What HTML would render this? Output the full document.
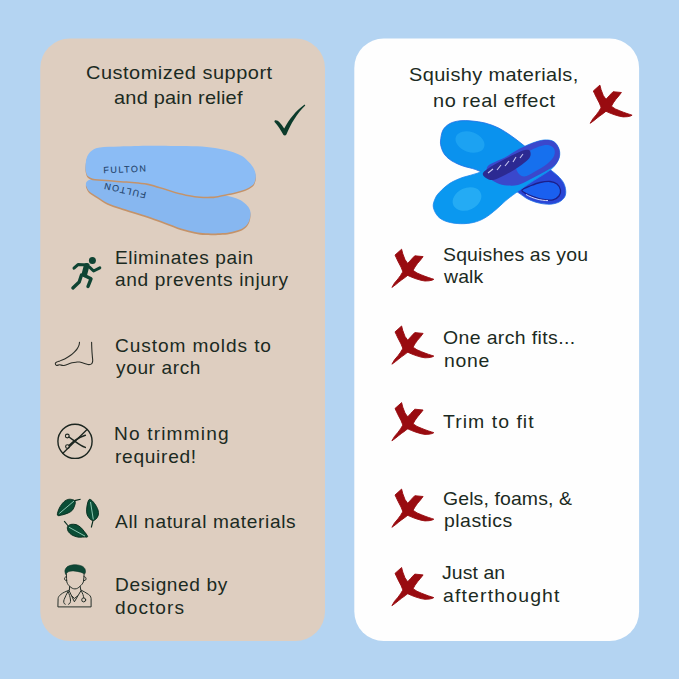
<!DOCTYPE html>
<html><head><meta charset="utf-8"><style>
html,body{margin:0;padding:0;background:#b4d4f2;}
body{width:679px;height:679px;background:#b4d4f2;position:relative;overflow:hidden;font-family:"Liberation Sans",sans-serif;}

.t{position:absolute;white-space:nowrap;color:#1b2a22;}
svg{position:absolute;left:0;top:0;}
</style></head><body>
<svg width="679" height="679" viewBox="0 0 679 679">
<rect x="40.25" y="38.5" width="284.75" height="602.4" rx="29.5" fill="#decec0"/>
<rect x="354.3" y="38.4" width="284.8" height="602.7" rx="29.5" fill="#fefefe"/>
<g>
<path d="M86.0,183.0 C85.5,184.4 86.3,186.5 87.0,188.0 C87.7,189.5 88.3,190.6 90.0,192.0 C91.7,193.4 94.1,194.7 97.0,196.5 C99.9,198.3 103.6,201.2 107.4,203.0 C111.2,204.8 116.0,206.1 120.0,207.5 C124.0,208.9 126.7,209.6 131.7,211.2 C136.7,212.8 144.4,215.1 150.0,217.0 C155.6,218.9 159.8,220.6 165.0,222.5 C170.2,224.4 176.2,226.9 181.2,228.5 C186.2,230.1 190.9,231.2 195.0,232.0 C199.1,232.8 201.3,233.1 205.5,233.3 C209.7,233.5 215.9,233.4 220.0,233.2 C224.1,233.0 226.5,232.8 229.8,232.2 C233.1,231.6 237.3,230.6 240.0,229.5 C242.7,228.4 244.4,227.4 246.0,225.8 C247.6,224.2 248.8,222.1 249.5,220.0 C250.2,217.9 250.6,215.0 250.5,213.0 C250.4,211.0 249.9,209.6 249.0,208.0 C248.1,206.4 246.6,204.9 245.0,203.5 C243.4,202.1 241.8,200.9 239.6,199.8 C237.4,198.7 234.9,197.8 232.0,197.0 C229.1,196.2 227.3,195.8 222.0,195.0 C216.7,194.2 207.8,193.3 200.0,192.0 C192.2,190.7 183.3,188.6 175.0,187.0 C166.7,185.4 159.2,183.7 150.0,182.5 C140.8,181.3 128.3,180.6 120.0,180.0 C111.7,179.4 105.0,179.1 100.0,179.0 C95.0,178.9 92.3,178.8 90.0,179.5 C87.7,180.2 86.5,181.6 86.0,183.0 Z" fill="#c4936a" transform="translate(0,1.8)"/>
<path d="M86.0,183.0 C85.5,184.4 86.3,186.5 87.0,188.0 C87.7,189.5 88.3,190.6 90.0,192.0 C91.7,193.4 94.1,194.7 97.0,196.5 C99.9,198.3 103.6,201.2 107.4,203.0 C111.2,204.8 116.0,206.1 120.0,207.5 C124.0,208.9 126.7,209.6 131.7,211.2 C136.7,212.8 144.4,215.1 150.0,217.0 C155.6,218.9 159.8,220.6 165.0,222.5 C170.2,224.4 176.2,226.9 181.2,228.5 C186.2,230.1 190.9,231.2 195.0,232.0 C199.1,232.8 201.3,233.1 205.5,233.3 C209.7,233.5 215.9,233.4 220.0,233.2 C224.1,233.0 226.5,232.8 229.8,232.2 C233.1,231.6 237.3,230.6 240.0,229.5 C242.7,228.4 244.4,227.4 246.0,225.8 C247.6,224.2 248.8,222.1 249.5,220.0 C250.2,217.9 250.6,215.0 250.5,213.0 C250.4,211.0 249.9,209.6 249.0,208.0 C248.1,206.4 246.6,204.9 245.0,203.5 C243.4,202.1 241.8,200.9 239.6,199.8 C237.4,198.7 234.9,197.8 232.0,197.0 C229.1,196.2 227.3,195.8 222.0,195.0 C216.7,194.2 207.8,193.3 200.0,192.0 C192.2,190.7 183.3,188.6 175.0,187.0 C166.7,185.4 159.2,183.7 150.0,182.5 C140.8,181.3 128.3,180.6 120.0,180.0 C111.7,179.4 105.0,179.1 100.0,179.0 C95.0,178.9 92.3,178.8 90.0,179.5 C87.7,180.2 86.5,181.6 86.0,183.0 Z" fill="#87b7f0"/>
<path d="M85.5,166.0 C85.7,163.5 85.9,159.6 87.0,157.0 C88.1,154.4 89.8,152.1 92.0,150.5 C94.2,148.9 95.3,148.2 100.0,147.5 C104.7,146.8 111.7,146.8 120.0,146.5 C128.3,146.2 140.8,145.9 150.0,145.8 C159.2,145.7 167.2,145.9 175.0,146.0 C182.8,146.1 190.3,146.0 197.0,146.3 C203.7,146.6 209.5,147.2 215.0,148.0 C220.5,148.8 225.5,149.9 230.0,151.2 C234.5,152.5 238.8,154.1 242.0,156.0 C245.2,157.9 247.3,160.4 249.3,162.6 C251.3,164.8 252.9,166.8 254.0,169.0 C255.1,171.2 255.6,173.5 255.8,175.5 C256.0,177.5 255.6,179.4 255.0,181.0 C254.4,182.6 254.2,183.8 252.5,185.2 C250.8,186.6 248.0,188.3 245.0,189.5 C242.0,190.7 238.5,191.6 234.7,192.5 C230.9,193.4 225.5,194.3 222.0,195.0 C218.5,195.7 217.3,196.3 213.6,196.6 C209.9,196.8 204.1,196.8 200.0,196.5 C195.9,196.2 193.5,195.8 189.3,195.0 C185.1,194.2 179.9,193.0 175.0,191.7 C170.1,190.4 164.5,188.3 160.0,187.0 C155.5,185.7 152.2,184.4 148.0,183.6 C143.8,182.8 139.1,182.4 135.0,182.0 C130.9,181.6 127.8,181.5 123.6,181.2 C119.4,180.9 114.8,180.4 110.0,180.0 C105.2,179.6 98.7,179.6 95.0,179.0 C91.3,178.4 89.5,177.5 88.0,176.3 C86.5,175.1 86.4,173.7 86.0,172.0 C85.6,170.3 85.3,168.5 85.5,166.0 Z" fill="#c4936a" transform="translate(0,1.6)"/>
<path d="M85.5,166.0 C85.7,163.5 85.9,159.6 87.0,157.0 C88.1,154.4 89.8,152.1 92.0,150.5 C94.2,148.9 95.3,148.2 100.0,147.5 C104.7,146.8 111.7,146.8 120.0,146.5 C128.3,146.2 140.8,145.9 150.0,145.8 C159.2,145.7 167.2,145.9 175.0,146.0 C182.8,146.1 190.3,146.0 197.0,146.3 C203.7,146.6 209.5,147.2 215.0,148.0 C220.5,148.8 225.5,149.9 230.0,151.2 C234.5,152.5 238.8,154.1 242.0,156.0 C245.2,157.9 247.3,160.4 249.3,162.6 C251.3,164.8 252.9,166.8 254.0,169.0 C255.1,171.2 255.6,173.5 255.8,175.5 C256.0,177.5 255.6,179.4 255.0,181.0 C254.4,182.6 254.2,183.8 252.5,185.2 C250.8,186.6 248.0,188.3 245.0,189.5 C242.0,190.7 238.5,191.6 234.7,192.5 C230.9,193.4 225.5,194.3 222.0,195.0 C218.5,195.7 217.3,196.3 213.6,196.6 C209.9,196.8 204.1,196.8 200.0,196.5 C195.9,196.2 193.5,195.8 189.3,195.0 C185.1,194.2 179.9,193.0 175.0,191.7 C170.1,190.4 164.5,188.3 160.0,187.0 C155.5,185.7 152.2,184.4 148.0,183.6 C143.8,182.8 139.1,182.4 135.0,182.0 C130.9,181.6 127.8,181.5 123.6,181.2 C119.4,180.9 114.8,180.4 110.0,180.0 C105.2,179.6 98.7,179.6 95.0,179.0 C91.3,178.4 89.5,177.5 88.0,176.3 C86.5,175.1 86.4,173.7 86.0,172.0 C85.6,170.3 85.3,168.5 85.5,166.0 Z" fill="#8bbcf5"/>
<text x="0" y="0" font-family="Liberation Sans" font-size="9" letter-spacing="1.45" fill="#23436b" stroke="#23436b" stroke-width="0.12" transform="translate(103.6,173.3) rotate(-2.4)">FULTON</text>
<text x="0" y="0" font-family="Liberation Sans" font-size="9" letter-spacing="1.45" fill="#23436b" stroke="#23436b" stroke-width="0.12" transform="translate(146.5,192.3) rotate(193)">FULTON</text>
</g>
<g>
<defs><linearGradient id="bg1" gradientUnits="userSpaceOnUse" x1="505" y1="150" x2="530" y2="178">
<stop offset="0.45" stop-color="#0a92ee"/><stop offset="0.6" stop-color="#2a46d6"/></linearGradient></defs>
<path d="M440.5,141.0 C440.8,138.0 441.4,132.9 443.0,130.0 C444.6,127.1 447.2,125.0 450.0,123.5 C452.8,122.0 456.3,121.2 460.0,120.8 C463.7,120.4 467.8,120.6 472.0,121.0 C476.2,121.4 480.7,121.9 485.0,123.0 C489.3,124.1 493.8,125.7 498.0,127.7 C502.2,129.7 506.0,132.3 510.0,135.0 C514.0,137.7 517.8,140.7 522.0,144.0 C526.2,147.3 531.0,151.3 535.0,155.0 C539.0,158.7 543.2,163.3 546.0,166.0 C548.8,168.7 550.0,169.3 552.0,171.0 C554.0,172.7 556.1,174.1 558.0,176.0 C559.9,177.9 562.2,180.3 563.5,182.7 C564.8,185.1 565.5,188.0 565.7,190.4 C565.9,192.8 565.7,195.1 564.6,197.0 C563.5,198.9 561.5,200.8 559.1,202.0 C556.7,203.2 553.5,204.0 550.2,204.2 C546.9,204.4 542.9,203.9 539.2,203.1 C535.5,202.3 531.6,200.9 528.1,199.2 C524.6,197.4 522.1,195.1 518.2,192.6 C514.4,190.1 509.7,186.8 505.0,184.0 C500.3,181.2 494.9,178.4 490.0,176.0 C485.1,173.6 480.3,171.3 475.8,169.6 C471.3,167.9 467.0,167.4 463.0,166.0 C459.0,164.6 455.0,162.8 452.0,161.0 C449.0,159.2 446.8,157.2 445.0,155.0 C443.2,152.8 442.2,150.3 441.5,148.0 C440.8,145.7 440.2,144.0 440.5,141.0 Z" fill="url(#bg1)" stroke="#1f6fe6" stroke-width="0.8"/>
<path d="M522.0,190.0 C522.7,188.8 527.0,187.2 530.0,186.0 C533.0,184.8 536.7,183.2 540.0,182.5 C543.3,181.8 547.2,181.2 550.0,181.5 C552.8,181.8 555.2,182.6 557.0,184.0 C558.8,185.4 560.2,188.0 560.5,190.0 C560.8,192.0 560.2,194.4 559.0,196.0 C557.8,197.6 555.7,199.2 553.0,199.8 C550.3,200.4 546.3,200.1 543.0,199.5 C539.7,198.9 535.8,197.5 533.0,196.5 C530.2,195.5 527.8,194.6 526.0,193.5 C524.2,192.4 521.3,191.2 522.0,190.0 Z" fill="#1a60f0" stroke="#1c1f8a" stroke-width="1.3"/>
<path d="M526,194.5 C533,198.5 541,200.6 548,200.6" fill="none" stroke="#e6e8ff" stroke-width="0.9"/>
<path d="M433.3,207.1 C432.8,204.2 434.0,201.4 435.0,199.0 C436.0,196.6 436.8,195.1 439.3,192.5 C441.8,189.9 445.9,185.8 449.9,183.3 C453.9,180.8 458.4,179.0 463.1,177.3 C467.8,175.6 473.5,174.9 478.0,173.0 C482.5,171.1 485.5,168.6 490.0,166.0 C494.5,163.4 500.0,160.4 505.0,157.5 C510.0,154.6 514.7,151.2 519.8,148.6 C524.9,146.0 531.3,143.3 535.7,141.9 C540.1,140.5 543.2,139.9 546.3,139.9 C549.4,139.9 552.1,140.5 554.2,141.9 C556.3,143.3 558.0,146.2 558.9,148.6 C559.8,151.0 560.0,153.8 559.5,156.5 C559.0,159.2 557.5,162.0 555.6,164.5 C553.7,167.0 552.3,168.5 548.0,171.6 C543.7,174.7 535.5,179.4 530.0,183.0 C524.5,186.6 519.3,190.4 515.3,193.3 C511.3,196.2 509.0,197.9 505.8,200.6 C502.6,203.3 499.5,206.6 496.0,209.5 C492.5,212.4 488.7,215.7 485.0,217.8 C481.3,220.0 477.8,221.4 473.7,222.4 C469.6,223.4 464.9,223.8 460.5,223.7 C456.1,223.6 450.9,222.9 447.2,221.7 C443.4,220.5 440.3,218.8 438.0,216.4 C435.7,214.0 433.8,210.0 433.3,207.1 Z" fill="#0a98f0" stroke="#1a86ee" stroke-width="0.8"/>
<path d="M488.0,166.0 C490.7,162.8 499.7,160.4 505.0,157.5 C510.3,154.6 514.7,151.2 519.8,148.6 C524.9,146.0 531.3,143.3 535.7,141.9 C540.1,140.5 543.2,139.9 546.3,139.9 C549.4,139.9 552.1,140.5 554.2,141.9 C556.3,143.3 558.0,146.2 558.9,148.6 C559.8,151.0 560.0,153.8 559.5,156.5 C559.0,159.2 557.9,162.1 555.6,164.5 C553.4,166.9 550.3,168.5 546.0,171.0 C541.7,173.5 534.7,177.2 530.0,179.5 C525.3,181.8 521.8,184.0 518.0,185.0 C514.2,186.0 510.5,185.8 507.0,185.5 C503.5,185.2 500.0,184.4 497.0,183.0 C494.0,181.6 490.5,179.8 489.0,177.0 C487.5,174.2 485.3,169.2 488.0,166.0 Z" fill="#3a48cc"/>
<path d="M516.0,160.0 C517.7,156.9 523.2,154.8 527.0,152.5 C530.8,150.2 535.5,147.8 539.0,146.5 C542.5,145.2 545.5,144.7 548.0,145.0 C550.5,145.3 553.0,146.7 554.0,148.5 C555.0,150.3 555.2,153.4 554.0,156.0 C552.8,158.6 550.2,161.4 547.0,164.0 C543.8,166.6 538.8,169.4 535.0,171.5 C531.2,173.6 527.0,176.6 524.0,176.5 C521.0,176.4 518.3,173.8 517.0,171.0 C515.7,168.2 514.3,163.1 516.0,160.0 Z" fill="#1670ee"/>
<path d="M483.0,173.0 C484.0,171.0 488.7,168.2 492.0,166.0 C495.3,163.8 499.2,162.0 503.0,160.0 C506.8,158.0 511.3,155.7 515.0,154.0 C518.7,152.3 522.5,150.5 525.0,150.0 C527.5,149.5 529.2,149.8 530.0,151.0 C530.8,152.2 531.0,155.0 530.0,157.0 C529.0,159.0 526.7,160.8 524.0,163.0 C521.3,165.2 517.5,167.8 514.0,170.0 C510.5,172.2 506.5,174.3 503.0,176.0 C499.5,177.7 495.8,179.7 493.0,180.0 C490.2,180.3 487.7,179.2 486.0,178.0 C484.3,176.8 482.0,175.0 483.0,173.0 Z" fill="#2c2a92"/>
<path d="M488,173 L493,169 M497,170 L501,165 M505,166 L509,161 M513,162 L516,157 M520,158 L523,154" stroke="#c8c8f0" stroke-width="1.1" fill="none"/>
<ellipse cx="467" cy="199" rx="15" ry="11" fill="#45c4f8" opacity="0.45" transform="rotate(-25 467 199)"/>
<ellipse cx="470" cy="142" rx="15" ry="10" fill="#40bff8" opacity="0.35" transform="rotate(20 470 142)"/>
</g>
<path transform="translate(265,95)" d="M9.8,25.4 C12.5,24.4 15.5,27.5 19.2,33.6 C24,24.5 31,15.5 39.6,9.5 L40.3,10.5 C32,18.5 26,28.5 21.4,39.6 C20.9,40.7 19.2,40.9 18.5,40.1 C15.8,35.2 12.8,30.5 10,27.6 C9.3,26.8 9.3,25.8 9.8,25.4 Z" fill="#0c3b2b"/>
<g fill="none" stroke="#0f4433" stroke-linecap="round" stroke-linejoin="round">
<circle cx="92.4" cy="260.4" r="3.5" fill="#0f4433" stroke="none"/>
<polyline points="74,268.2 78,264.6 88,265" stroke-width="3"/>
<polyline points="86.6,265.8 84.4,274.3" stroke-width="5.6"/>
<polyline points="89.5,267.2 93.6,271 99.8,267.8" stroke-width="3"/>
<polyline points="81.5,275 79.2,282 72.9,287.9" stroke-width="3.4"/>
<polyline points="84.5,275.5 91,278.8 88,286.5" stroke-width="3.4"/>
</g>
<path transform="translate(50,330)" d="M29.5,12.2 C29.4,12.6 29.5,13.8 29.1,14.9 C28.7,16.0 28.1,17.4 27.3,18.6 C26.5,19.8 25.5,20.9 24.3,22.1 C23.1,23.3 21.5,24.7 19.9,25.8 C18.3,26.9 16.4,28.1 14.7,29.0 C13.0,29.9 11.2,30.3 9.8,30.9 C8.4,31.4 7.0,31.8 6.3,32.3 C5.5,32.8 5.2,33.3 5.3,33.8 C5.3,34.3 5.9,35.2 6.6,35.4 C7.3,35.6 8.6,34.8 9.6,34.8 C10.6,34.8 11.6,35.3 12.5,35.4 C13.4,35.5 14.0,35.4 15.0,35.2 C16.0,35.0 17.3,34.4 18.5,34.0 C19.7,33.6 20.9,33.1 22.1,32.8 C23.4,32.5 24.8,32.3 26.0,32.2 C27.2,32.1 28.1,31.8 29.5,32.0 C30.9,32.2 33.0,33.1 34.6,33.5 C36.2,33.9 37.8,34.6 39.0,34.6 C40.2,34.6 41.2,34.2 41.8,33.6 C42.4,33.0 42.6,32.2 42.7,30.9 C42.8,29.6 42.4,27.9 42.3,25.8 C42.1,23.7 41.9,20.7 41.8,18.4 C41.7,16.1 41.6,13.2 41.6,12.2" fill="none" stroke="#2b2e28" stroke-width="1.1" stroke-linecap="round" stroke-linejoin="round"/>
<g transform="translate(50,415)" fill="none" stroke="#1c2620" stroke-linecap="round">
<circle cx="25" cy="26.3" r="17.1" stroke-width="1.4"/>
<line x1="12.9" y1="38.3" x2="36.8" y2="14.7" stroke-width="1.3"/>
<circle cx="17.3" cy="21" r="1.9" stroke-width="1.1"/>
<circle cx="17.5" cy="31.6" r="1.9" stroke-width="1.1"/>
<path d="M19,22 L24.3,25.8 C28,28.5 31.5,31 35.3,32.4" stroke-width="1.5"/>
<path d="M19.2,30.4 L24.3,25.8 C28,23 31.5,21.5 35.3,20.3" stroke-width="1.6"/>
</g>
<g transform="translate(50,495)" stroke="#052a1c" stroke-width="0.9" stroke-linejoin="round">
<path d="M7.4,20.1 C7.0,18.9 8.3,15.2 9.4,13.0 C10.5,10.8 12.3,8.3 13.8,6.9 C15.3,5.5 16.8,4.8 18.3,4.4 C19.8,4.0 21.6,4.4 22.7,4.7 C23.8,5.0 24.5,5.3 24.9,6.0 C25.3,6.7 25.5,7.6 25.1,9.1 C24.7,10.6 23.8,13.3 22.7,14.8 C21.6,16.3 20.2,17.0 18.3,17.9 C16.4,18.8 13.4,19.7 11.6,20.1 C9.8,20.5 7.8,21.3 7.4,20.1 Z" fill="#0b4d36"/>
<path d="M24.6,5.6 L30.6,4.2" fill="none" stroke-width="1.1"/>
<path d="M9.4,18.4 L24,6" fill="none" stroke="#a2dcc6" stroke-width="0.85"/>
<path d="M39.5,4.3 C40.8,3.9 43.1,6.7 44.5,8.5 C45.9,10.3 47.4,13.1 48.0,15.0 C48.6,16.9 48.6,18.5 48.3,20.0 C48.0,21.5 46.9,23.1 46.0,24.0 C45.1,24.9 44.1,25.6 43.0,25.5 C41.9,25.4 40.5,24.7 39.5,23.5 C38.5,22.3 37.2,20.6 36.8,18.5 C36.4,16.4 36.5,13.4 37.0,11.0 C37.5,8.6 38.2,4.7 39.5,4.3 Z" fill="#0b4d36"/>
<path d="M43,25.5 L41.3,32.5" fill="none" stroke-width="1.1"/>
<path d="M40.5,7 L43.3,24.5" fill="none" stroke="#a2dcc6" stroke-width="0.85"/>
<path d="M18.2,31.0 C18.8,30.4 19.5,29.6 20.8,29.4 C22.1,29.2 24.5,29.1 26.1,29.6 C27.7,30.1 29.3,31.2 30.6,32.3 C31.9,33.4 32.9,34.8 34.1,36.3 C35.3,37.8 37.6,40.6 37.6,41.6 C37.6,42.6 35.8,41.9 34.1,42.0 C32.4,42.1 29.6,42.4 27.5,42.0 C25.4,41.6 23.2,40.8 21.7,39.8 C20.1,38.8 18.9,37.5 18.2,36.3 C17.5,35.1 17.3,33.6 17.3,32.7 C17.3,31.8 17.6,31.6 18.2,31.0 Z" fill="#0b4d36"/>
<path d="M18.2,31 L14.2,26.1" fill="none" stroke-width="1.1"/>
<path d="M19.1,32.3 L35,41.1" fill="none" stroke="#a2dcc6" stroke-width="0.85"/>
</g>
<g transform="translate(50,560)" fill="none" stroke="#26302a" stroke-width="1" stroke-linecap="round" stroke-linejoin="round">
<path d="M15.7,14.2 C15.4,13.8 14.8,11.9 14.9,10.8 C15.0,9.7 15.7,8.4 16.5,7.5 C17.3,6.6 18.2,6.1 19.7,5.6 C21.2,5.1 23.5,4.6 25.6,4.7 C27.7,4.8 30.6,5.4 32.2,6.2 C33.8,7.0 34.8,8.3 35.2,9.6 C35.6,10.9 35.5,13.4 34.8,13.8 C34.1,14.2 32.7,12.7 30.8,12.2 C28.9,11.7 25.4,11.0 23.4,10.9 C21.4,10.8 20.1,11.1 19.0,11.4 C17.9,11.8 17.4,12.5 16.8,13.0 C16.2,13.5 16.0,14.6 15.7,14.2 Z" fill="#0e4836" stroke="#0a3628" stroke-width="0.6"/>
<path d="M16.4,13.8 C16.5,17 16.6,20 16.8,21.9 C17.5,24 18.5,25.5 19.7,26.3 C21.5,28 23,28.9 24.9,28.9 C27,28.9 28.5,27.8 30,26.3 C31.5,25 32.8,23.5 33.4,21.9 C33.8,19 34,16.5 34.1,13.8"/>
<path d="M16.6,16.7 C14.3,16.2 13.8,19.8 15.6,20.4 L16.8,20.6"/>
<path d="M34,16.7 C36.3,16.2 36.8,19.8 35,20.4 L33.8,20.6"/>
<path d="M19.6,26.5 L19.4,30 M30.2,26.5 L30.8,30"/>
<path d="M19.4,30 C16,31.5 13,32.5 10.9,34.4 C9,35.8 8.3,37 8.1,38.6 L7.9,46.9 L41.1,46.9 L41.1,38.6 C40.8,36.5 40,35.3 38.5,34.4 C36,32.5 33.5,31.5 30.8,30"/>
<path d="M19.2,30.8 L24.4,41.8 L30.9,30.8"/>
<path d="M22,36 L24.4,38.5 L27.5,36"/>
<path d="M18,31.5 C16.5,34 15.4,36.5 14.2,39.4 C13.3,41.5 13.6,44 15.2,44.3 M18,31.5 C19.3,34 20.2,37 20.5,40 C20.7,42 20,44 18.6,44.3"/>
<path d="M31.5,31.5 C32.8,33.5 33.4,35.5 33.7,37.8"/>
<circle cx="33.7" cy="39.9" r="2"/>
</g>
<path transform="translate(583.3,75.9)" d="M10,15.1 L16.6,9.2 L17.8,13.8 L20,19.6 L22.7,23.4 L25.5,27.5 L28.4,30.6 L32,33 L36.5,34.9 L40,36.3 L43.7,37.6 L46.5,38.5 L48.8,39.3 L47,40.2 L44,40.8 L40,41 L36,40.3 L31,38.8 L26.7,37.2 L22.7,35.4 L19.8,33.5 L17.8,31.5 L16,27.1 L13,21.4 L11.3,17.8 Z M29.8,15.8 L38.1,16.6 L35.5,20 L32.5,23.5 L30,27 L28,30.5 L24.3,34 L20.3,37.3 L16.5,40 L13.8,42.1 L10.5,44.8 L6.9,47.4 L9.5,43 L13,38.9 L15.5,35.5 L17.4,32.4 L20,28 L22.7,23.4 L25.8,20 L27.8,17.8 Z" fill="#990b10" stroke="#990b10" stroke-width="0.9" stroke-linejoin="round"/><path transform="translate(385,240)" d="M10,15.1 L16.6,9.2 L17.8,13.8 L20,19.6 L22.7,23.4 L25.5,27.5 L28.4,30.6 L32,33 L36.5,34.9 L40,36.3 L43.7,37.6 L46.5,38.5 L48.8,39.3 L47,40.2 L44,40.8 L40,41 L36,40.3 L31,38.8 L26.7,37.2 L22.7,35.4 L19.8,33.5 L17.8,31.5 L16,27.1 L13,21.4 L11.3,17.8 Z M29.8,15.8 L38.1,16.6 L35.5,20 L32.5,23.5 L30,27 L28,30.5 L24.3,34 L20.3,37.3 L16.5,40 L13.8,42.1 L10.5,44.8 L6.9,47.4 L9.5,43 L13,38.9 L15.5,35.5 L17.4,32.4 L20,28 L22.7,23.4 L25.8,20 L27.8,17.8 Z" fill="#990b10" stroke="#990b10" stroke-width="0.9" stroke-linejoin="round"/><path transform="translate(385,316.8)" d="M10,15.1 L16.6,9.2 L17.8,13.8 L20,19.6 L22.7,23.4 L25.5,27.5 L28.4,30.6 L32,33 L36.5,34.9 L40,36.3 L43.7,37.6 L46.5,38.5 L48.8,39.3 L47,40.2 L44,40.8 L40,41 L36,40.3 L31,38.8 L26.7,37.2 L22.7,35.4 L19.8,33.5 L17.8,31.5 L16,27.1 L13,21.4 L11.3,17.8 Z M29.8,15.8 L38.1,16.6 L35.5,20 L32.5,23.5 L30,27 L28,30.5 L24.3,34 L20.3,37.3 L16.5,40 L13.8,42.1 L10.5,44.8 L6.9,47.4 L9.5,43 L13,38.9 L15.5,35.5 L17.4,32.4 L20,28 L22.7,23.4 L25.8,20 L27.8,17.8 Z" fill="#990b10" stroke="#990b10" stroke-width="0.9" stroke-linejoin="round"/><path transform="translate(385,393.4)" d="M10,15.1 L16.6,9.2 L17.8,13.8 L20,19.6 L22.7,23.4 L25.5,27.5 L28.4,30.6 L32,33 L36.5,34.9 L40,36.3 L43.7,37.6 L46.5,38.5 L48.8,39.3 L47,40.2 L44,40.8 L40,41 L36,40.3 L31,38.8 L26.7,37.2 L22.7,35.4 L19.8,33.5 L17.8,31.5 L16,27.1 L13,21.4 L11.3,17.8 Z M29.8,15.8 L38.1,16.6 L35.5,20 L32.5,23.5 L30,27 L28,30.5 L24.3,34 L20.3,37.3 L16.5,40 L13.8,42.1 L10.5,44.8 L6.9,47.4 L9.5,43 L13,38.9 L15.5,35.5 L17.4,32.4 L20,28 L22.7,23.4 L25.8,20 L27.8,17.8 Z" fill="#990b10" stroke="#990b10" stroke-width="0.9" stroke-linejoin="round"/><path transform="translate(385,479.9)" d="M10,15.1 L16.6,9.2 L17.8,13.8 L20,19.6 L22.7,23.4 L25.5,27.5 L28.4,30.6 L32,33 L36.5,34.9 L40,36.3 L43.7,37.6 L46.5,38.5 L48.8,39.3 L47,40.2 L44,40.8 L40,41 L36,40.3 L31,38.8 L26.7,37.2 L22.7,35.4 L19.8,33.5 L17.8,31.5 L16,27.1 L13,21.4 L11.3,17.8 Z M29.8,15.8 L38.1,16.6 L35.5,20 L32.5,23.5 L30,27 L28,30.5 L24.3,34 L20.3,37.3 L16.5,40 L13.8,42.1 L10.5,44.8 L6.9,47.4 L9.5,43 L13,38.9 L15.5,35.5 L17.4,32.4 L20,28 L22.7,23.4 L25.8,20 L27.8,17.8 Z" fill="#990b10" stroke="#990b10" stroke-width="0.9" stroke-linejoin="round"/><path transform="translate(385,558.3)" d="M10,15.1 L16.6,9.2 L17.8,13.8 L20,19.6 L22.7,23.4 L25.5,27.5 L28.4,30.6 L32,33 L36.5,34.9 L40,36.3 L43.7,37.6 L46.5,38.5 L48.8,39.3 L47,40.2 L44,40.8 L40,41 L36,40.3 L31,38.8 L26.7,37.2 L22.7,35.4 L19.8,33.5 L17.8,31.5 L16,27.1 L13,21.4 L11.3,17.8 Z M29.8,15.8 L38.1,16.6 L35.5,20 L32.5,23.5 L30,27 L28,30.5 L24.3,34 L20.3,37.3 L16.5,40 L13.8,42.1 L10.5,44.8 L6.9,47.4 L9.5,43 L13,38.9 L15.5,35.5 L17.4,32.4 L20,28 L22.7,23.4 L25.8,20 L27.8,17.8 Z" fill="#990b10" stroke="#990b10" stroke-width="0.9" stroke-linejoin="round"/>
</svg>
<div class="t" style="left:85.60px;top:62.80px;font-size:19.0px;line-height:19.0px;letter-spacing:0.488px;transform:scaleX(1.05);transform-origin:0 0">Customized support</div>
<div class="t" style="left:114.00px;top:88.40px;font-size:19.0px;line-height:19.0px;letter-spacing:0.214px;transform:scaleX(1.05);transform-origin:0 0">and pain relief</div>
<div class="t" style="left:408.60px;top:64.70px;font-size:19.0px;line-height:19.0px;letter-spacing:0.347px;transform:scaleX(1.05);transform-origin:0 0">Squishy materials,</div>
<div class="t" style="left:432.60px;top:90.60px;font-size:19.0px;line-height:19.0px;letter-spacing:0.515px;transform:scaleX(1.05);transform-origin:0 0">no real effect</div>
<div class="t" style="left:115.40px;top:248.60px;font-size:18.2px;line-height:18.2px;letter-spacing:0.593px;transform:scaleX(1.05);transform-origin:0 0">Eliminates pain</div>
<div class="t" style="left:114.80px;top:271.40px;font-size:18.2px;line-height:18.2px;letter-spacing:0.622px;transform:scaleX(1.05);transform-origin:0 0">and prevents injury</div>
<div class="t" style="left:114.80px;top:336.90px;font-size:18.2px;line-height:18.2px;letter-spacing:0.864px;transform:scaleX(1.05);transform-origin:0 0">Custom molds to</div>
<div class="t" style="left:115.80px;top:359.40px;font-size:18.2px;line-height:18.2px;letter-spacing:0.575px;transform:scaleX(1.05);transform-origin:0 0">your arch</div>
<div class="t" style="left:114.40px;top:425.20px;font-size:18.2px;line-height:18.2px;letter-spacing:1.110px;transform:scaleX(1.05);transform-origin:0 0">No trimming</div>
<div class="t" style="left:114.80px;top:447.80px;font-size:18.2px;line-height:18.2px;letter-spacing:0.688px;transform:scaleX(1.05);transform-origin:0 0">required!</div>
<div class="t" style="left:114.80px;top:513.40px;font-size:18.2px;line-height:18.2px;letter-spacing:0.615px;transform:scaleX(1.05);transform-origin:0 0">All natural materials</div>
<div class="t" style="left:115.20px;top:576.20px;font-size:18.2px;line-height:18.2px;letter-spacing:0.580px;transform:scaleX(1.05);transform-origin:0 0">Designed by</div>
<div class="t" style="left:115.00px;top:598.50px;font-size:18.2px;line-height:18.2px;letter-spacing:1.017px;transform:scaleX(1.05);transform-origin:0 0">doctors</div>
<div class="t" style="left:442.80px;top:245.75px;font-size:18.5px;line-height:18.5px;letter-spacing:0.164px;transform:scaleX(1.05);transform-origin:0 0">Squishes as you</div>
<div class="t" style="left:444.40px;top:268.35px;font-size:18.5px;line-height:18.5px;letter-spacing:0.133px;transform:scaleX(1.05);transform-origin:0 0">walk</div>
<div class="t" style="left:443.20px;top:329.05px;font-size:18.5px;line-height:18.5px;letter-spacing:0.373px;transform:scaleX(1.05);transform-origin:0 0">One arch fits...</div>
<div class="t" style="left:443.60px;top:351.75px;font-size:18.5px;line-height:18.5px;letter-spacing:0.633px;transform:scaleX(1.05);transform-origin:0 0">none</div>
<div class="t" style="left:442.80px;top:412.95px;font-size:18.5px;line-height:18.5px;letter-spacing:0.990px;transform:scaleX(1.05);transform-origin:0 0">Trim to fit</div>
<div class="t" style="left:443.20px;top:489.55px;font-size:18.5px;line-height:18.5px;letter-spacing:0.115px;transform:scaleX(1.05);transform-origin:0 0">Gels, foams, &amp;</div>
<div class="t" style="left:443.80px;top:511.75px;font-size:18.5px;line-height:18.5px;letter-spacing:0.471px;transform:scaleX(1.05);transform-origin:0 0">plastics</div>
<div class="t" style="left:442.20px;top:564.05px;font-size:18.5px;line-height:18.5px;letter-spacing:0.083px;transform:scaleX(1.05);transform-origin:0 0">Just an</div>
<div class="t" style="left:443.00px;top:586.55px;font-size:18.5px;line-height:18.5px;letter-spacing:1.109px;transform:scaleX(1.05);transform-origin:0 0">afterthought</div>
</body></html>
